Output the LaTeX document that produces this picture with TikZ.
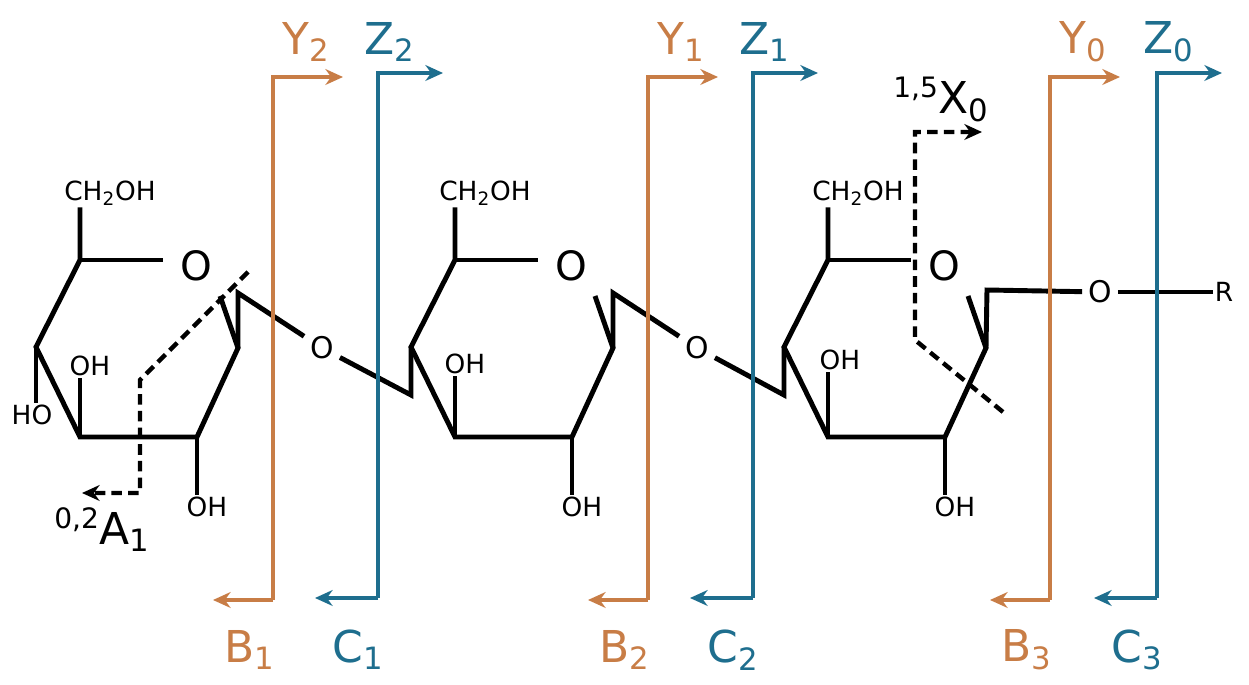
\documentclass[tikz,border=0pt]{standalone}
\usepackage{fontspec}
\setmainfont{DejaVu Sans}
\usetikzlibrary{arrows.meta}
\definecolor{cutY}{RGB}{200,125,70}
\definecolor{cutZ}{RGB}{30,110,142}
\tikzset{
    bond/.style={line width=2.8pt, line join=miter},
    cut/.style={line width=2.5pt, dash pattern=on 6pt off 3.5pt},
    ion/.style={line width=2pt, -{Stealth[length=10pt,width=9pt]}},
    grp/.style={font=\fontsize{15}{15}\selectfont, inner sep=1pt},
    big/.style={font=\fontsize{25}{25}\selectfont, inner sep=1pt},
}
\begin{document}
\begin{tikzpicture}[x=0.02cm, y=-0.02cm]
    \useasboundingbox (0,0) rectangle (1249,685);
    % three glucose rings
    \foreach \s/\r in {0/a, 375/b, 748/c} {
        \begin{scope}[xshift=\s*0.02cm]
            \coordinate (\r5) at (80,260);
            \coordinate (\r4) at (36,347);
            \coordinate (\r3) at (80,437);
            \coordinate (\r2) at (197,437);
            \coordinate (\r1) at (238,348);
            \node[font=\fontsize{23}{23}\selectfont, inner sep=1pt] (\r O) at (196,266) {O};
            \node[grp] (\r ch) at (110,193) {CH\textsubscript{2}OH};
            \node[grp] (\r oh2) at (207,507) {OH};
            \draw[bond] (\r ch.south -| \r5) -- (\r5) -- (\r4) -- (\r3) -- (\r2) -- (\r1) -- (220,296);
            \draw[bond] (\r5) -- (163,260);
            \draw[bond] (\r2) -- (\r oh2.north -| \r2);
        \end{scope}
    }
    % ring substituents
    \node[grp] (aoh4) at (32,415) {HO};
    \node[grp] (aoh3) at (90,366) {OH};
    \node[grp] (boh3) at (465,364) {OH};
    \node[grp] (coh3) at (840,360) {OH};
    \draw[bond] (a4) -- (aoh4.north -| a4);
    \draw[bond] (a3) -- (aoh3.south -| a3);
    \draw[bond] (b3) -- (boh3.south -| b3);
    \draw[bond] (c3) -- (coh3.south -| c3);
    % glycosidic links
    \node[font=\fontsize{17}{17}\selectfont] (l1) at (322,348) {O};
    \node[font=\fontsize{17}{17}\selectfont] (l2) at (697,348) {O};
    \node[font=\fontsize{17}{17}\selectfont] (l3) at (1100,292) {O};
    \node[grp] (rr) at (1224,292) {R};
    \draw[bond] (a1) -- (238,293) -- (l1);
    \draw[bond] (l1) -- (411,395) -- (b4);
    \draw[bond] (b1) -- (613,293) -- (l2);
    \draw[bond] (l2) -- (784,395) -- (c4);
    \draw[bond] (c1) -- (987,290) -- (l3);
    \draw[bond] (l3) -- (rr);
    % cross-ring cleavages
    \draw[cut, -{Stealth[length=10pt,width=9pt]}] (248,272) -- (140,380) -- (140,493) -- (82,493);
    \node[anchor=south west, inner sep=0pt] (xa) at (54,552) {\fontsize{16}{16}\selectfont 0,2\raisebox{-9pt}{\fontsize{25}{25}\selectfont A\textsubscript{1}}};
    \draw[cut, -{Stealth[length=10pt,width=9pt]}] (1003,412) -- (915,340) -- (915,132) -- (982,132);
    \node[anchor=south west, inner sep=0pt] (xx) at (893,122) {\fontsize{16}{16}\selectfont 1,5\raisebox{-9pt}{\fontsize{25}{25}\selectfont X\textsubscript{0}}};
    % glycosidic cleavages
    \foreach \yx/\zx/\yn/\bn/\cn in {273/378/2/1/1, 648/753/1/2/2, 1050/1157/0/3/3} {
        \draw[ion, cutY] (\yx,600) -- (\yx,77) -- (\yx+70,77);
        \draw[ion, cutY] (\yx,600) -- (\yx-60,600);
        \draw[ion, cutZ] (\zx,598) -- (\zx,73) -- (\zx+65,73);
        \draw[ion, cutZ] (\zx,598) -- (\zx-63,598);
        \node[big, cutY] at (\yx+33,42) {Y\textsubscript{\yn}};
        \node[big, cutZ] at (\zx+12,42) {Z\textsubscript{\yn}};
        \node[big, cutY] at (\yx-23,650) {B\textsubscript{\bn}};
        \node[big, cutZ] at (\zx-20,650) {C\textsubscript{\cn}};
    }
\end{tikzpicture}
\end{document}
